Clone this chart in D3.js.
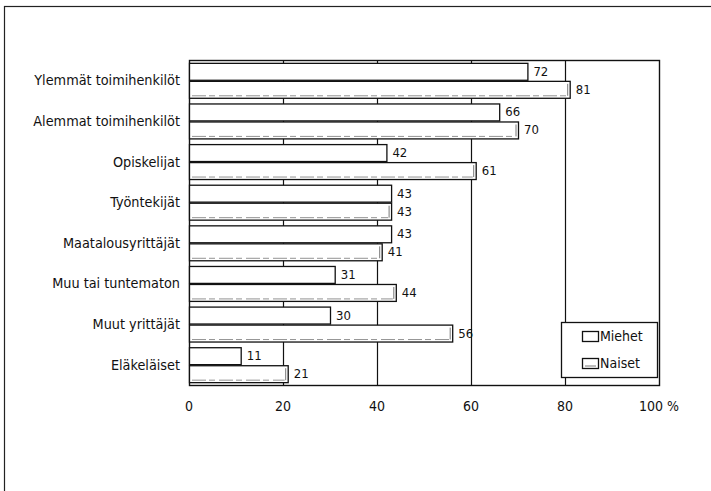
<!DOCTYPE html>
<html><head><meta charset="utf-8">
<script src="https://cdn.jsdelivr.net/npm/d3@7"></script>
<style>body{margin:0;background:#fff}svg{display:block}text{font-family:"DejaVu Sans Condensed","DejaVu Sans",sans-serif;fill:#111}</style>
</head><body>
<svg id="c" width="711" height="491"></svg>
<script>
const categories = ["Ylemmät toimihenkilöt","Alemmat toimihenkilöt","Opiskelijat","Työntekijät","Maatalousyrittäjät","Muu tai tuntematon","Muut yrittäjät","Eläkeläiset"];
const miehet = [72,66,42,43,43,31,30,11];
const naiset = [81,70,61,43,41,44,56,21];
const seriesNames = ["Miehet","Naiset"];
const ticks = [0,20,40,60,80,100];

const svg = d3.select("#c");
const m = {l:189, r:659, t:60, b:385};
const x = d3.scaleLinear().domain([0,100]).range([m.l, m.r]);
const y = d3.scaleBand().domain(categories).range([m.t, m.b]).paddingInner(0.14).paddingOuter(0.07);
const ys = d3.scaleBand().domain(seriesNames).range([0, y.bandwidth()]).paddingInner(0.06);

// outer frame
svg.append("rect").attr("x",4.5).attr("y",6.5).attr("width",720).attr("height",500)
  .attr("fill","none").attr("stroke","#222").attr("stroke-width",1.2);

const g = svg.append("g");
g.selectAll("line.grid").data(ticks.slice(1,5)).join("line")
  .attr("x1",d=>x(d)+0.5).attr("x2",d=>x(d)+0.5).attr("y1",m.t).attr("y2",m.b)
  .attr("stroke","#111").attr("stroke-width",1.2);
g.append("rect").attr("x",m.l+0.5).attr("y",m.t+0.5).attr("width",x(100)-x(0)).attr("height",m.b-m.t)
  .attr("fill","none").attr("stroke","#111").attr("stroke-width",1.4);

const rows = categories.map((c,i)=>({c, v:[miehet[i], naiset[i]]}));
const rowG = g.selectAll("g.row").data(rows).join("g").attr("transform",d=>`translate(0,${y(d.c)})`);
rowG.each(function(d){
  const sel = d3.select(this);
  seriesNames.forEach((s,j)=>{
    const v = d.v[j];
    const yy = ys(s), h = ys.bandwidth();
    sel.append("rect").attr("x",x(0)+0.5).attr("y",yy+0.5).attr("width",x(v)-x(0)).attr("height",h)
      .attr("fill","#fff").attr("stroke","#111").attr("stroke-width",1.3);
    if (j===1) {
      sel.append("line").attr("x1",x(v)-2).attr("x2",x(v)-2).attr("y1",yy+3).attr("y2",yy+h-2)
        .attr("stroke","#555").attr("stroke-width",0.8);
      sel.append("line").attr("x1",x(0)+3).attr("x2",x(v)-3).attr("y1",yy+h-2).attr("y2",yy+h-2)
        .attr("stroke","#777").attr("stroke-width",0.8).attr("stroke-dasharray","14,3,6,4");
    }
    sel.append("text").attr("x",x(v)+6).attr("y",yy+h/2).attr("dy","0.35em")
      .attr("font-size",13).text(v);
  });
  sel.append("text").attr("x",m.l-9).attr("y",y.bandwidth()/2).attr("dy","0.35em")
    .attr("text-anchor","end").attr("font-size",14.3).text(d.c);
});

svg.selectAll("text.tick").data(ticks).join("text").attr("class","tick")
  .attr("x",d=>x(d)).attr("y",411).attr("text-anchor","middle").attr("font-size",14)
  .text(d=>d===100 ? "100 %" : d);

const lg = svg.append("g").attr("transform","translate(561,322)");
lg.append("rect").attr("x",0.5).attr("y",0.5).attr("width",96).attr("height",55)
  .attr("fill","#fff").attr("stroke","#111").attr("stroke-width",1.3);
seriesNames.forEach((s,i)=>{
  const yy = 9 + i*27;
  lg.append("rect").attr("x",21.5).attr("y",yy+0.5).attr("width",16).attr("height",10)
    .attr("fill","#fff").attr("stroke","#111").attr("stroke-width",1.3);
  if (i===1) lg.append("line").attr("x1",24).attr("x2",35).attr("y1",yy+8).attr("y2",yy+8).attr("stroke","#555").attr("stroke-width",0.8);
  lg.append("text").attr("x",39).attr("y",yy+5.5).attr("dy","0.35em").attr("font-size",14).text(s);
});
</script>
</body></html>
